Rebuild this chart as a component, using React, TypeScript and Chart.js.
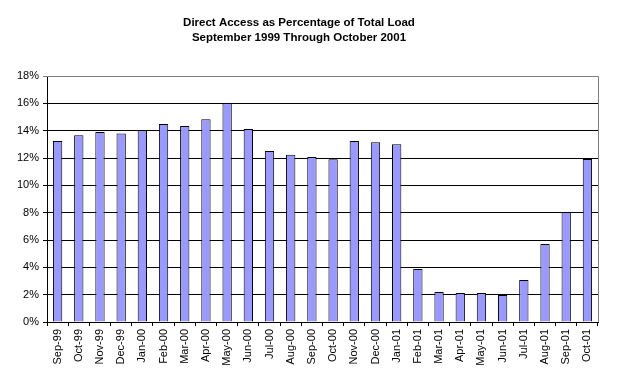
import React, { useEffect, useRef } from "react";
import { Chart, registerables } from "chart.js";

Chart.register(...registerables);

const categories = [
  "Sep-99", "Oct-99", "Nov-99", "Dec-99", "Jan-00", "Feb-00", "Mar-00", "Apr-00",
  "May-00", "Jun-00", "Jul-00", "Aug-00", "Sep-00", "Oct-00", "Nov-00", "Dec-00",
  "Jan-01", "Feb-01", "Mar-01", "Apr-01", "May-01", "Jun-01", "Jul-01", "Aug-01",
  "Sep-01", "Oct-01",
];

const directAccessPct = [
  13.25, 13.66, 13.9, 13.8, 14.05, 14.49, 14.34, 14.83,
  16.0, 14.13, 12.52, 12.23, 12.08, 11.9, 13.25, 13.15,
  13.0, 3.87, 2.19, 2.12, 2.12, 1.97, 3.07, 5.7,
  8.04, 11.93,
];

const titleLines = [
  "Direct Access as Percentage of Total Load",
  "September 1999 Through October 2001",
];

const FONT = "'Liberation Sans', Arial, sans-serif";

export default function App() {
  const ref = useRef<HTMLCanvasElement | null>(null);

  useEffect(() => {
    if (!ref.current) return;
    const borderPlugin = {
      id: "plotBorder",
      afterDraw(chart: any) {
        const { ctx, chartArea } = chart;
        ctx.save();
        ctx.strokeStyle = "#808080";
        ctx.lineWidth = 1;
        ctx.beginPath();
        ctx.moveTo(chartArea.left, chartArea.top + 0.5);
        ctx.lineTo(chartArea.right + 0.5, chartArea.top + 0.5);
        ctx.lineTo(chartArea.right + 0.5, chartArea.bottom);
        ctx.stroke();
        ctx.restore();
      },
    };
    const chart = new Chart(ref.current, {
      type: "bar",
      data: {
        labels: categories,
        datasets: [
          {
            data: directAccessPct,
            backgroundColor: "#9999FF",
            borderColor: "#000000",
            borderWidth: 1,
            barPercentage: 0.44,
            categoryPercentage: 1,
          },
        ],
      },
      options: {
        animation: false,
        responsive: false,
        layout: { padding: { left: 0, right: 25, top: 0, bottom: 0 } },
        plugins: {
          legend: { display: false },
          tooltip: { enabled: false },
          title: {
            display: true,
            text: titleLines,
            color: "#000",
            font: { family: FONT, size: 11.5, weight: "bold", lineHeight: 1.25 },
            padding: { top: 16, bottom: 31.25 },
          },
        },
        scales: {
          x: {
            offset: true,
            grid: {
              display: true,
              offset: true,
              drawOnChartArea: false,
              drawTicks: true,
              tickLength: 4,
              color: "#000",
            },
            border: { display: true, color: "#000" },
            ticks: {
              color: "#000",
              font: { family: FONT, size: 11 },
              minRotation: 90,
              maxRotation: 90,
              autoSkip: false,
              padding: 3,
            },
            afterFit(scale: any) {
              scale.height = 61;
            },
          },
          y: {
            min: 0,
            max: 18,
            grid: {
              color: (c: any) => (c.tick && c.tick.value === 18 ? "#808080" : "#000"),
              tickLength: 4,
            },
            border: { display: true, color: "#000" },
            ticks: {
              stepSize: 2,
              color: "#000",
              font: { family: FONT, size: 11 },
              padding: 4,
              callback: (v: any) => v + "%",
            },
            afterFit(scale: any) {
              scale.width = 47;
            },
          },
        },
      },
      plugins: [borderPlugin],
    } as any);
    return () => chart.destroy();
  }, []);

  return (
    <div style={{ position: "fixed", left: 0, top: 0, width: 623, height: 383, background: "#fff" }}>
      <canvas ref={ref} width={623} height={383} style={{ display: "block", width: 623, height: 383 }} />
    </div>
  );
}
